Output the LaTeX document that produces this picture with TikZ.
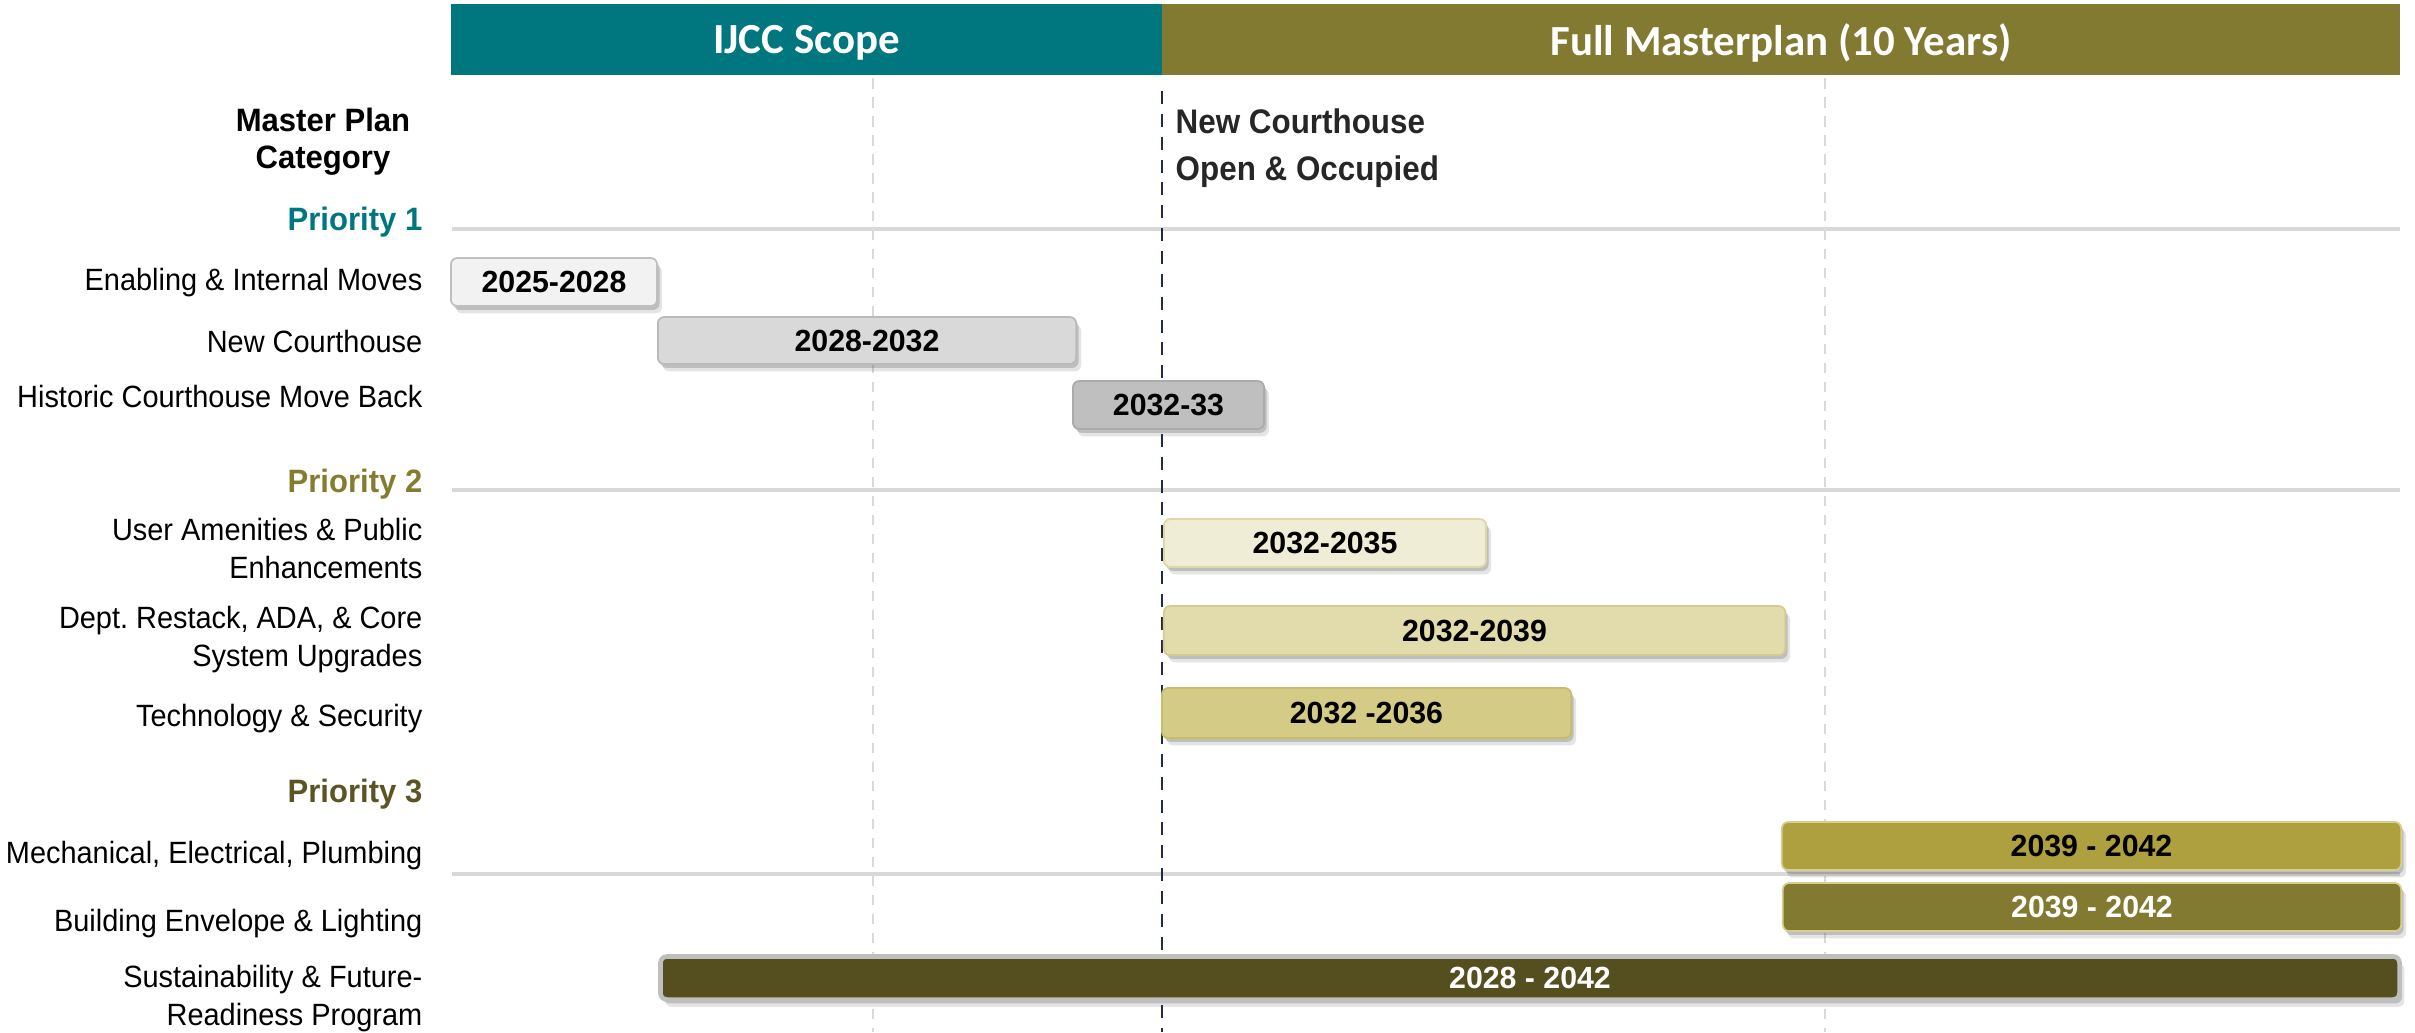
\documentclass[tikz,border=0pt]{standalone}
\usepackage{fontspec}
\usetikzlibrary{shadows}
\newfontfamily\regcond{Liberation Sans}[FakeStretch=0.94]
\newfontfamily\boldhead{Liberation Sans}[FakeStretch=0.96]
\newfontfamily\boldnote{Liberation Sans}[FakeStretch=0.92]
\newfontfamily\boldbar{Liberation Sans}[FakeStretch=0.99]
\newfontfamily\headfont{Carlito}
\definecolor{ijccteal}{HTML}{00767F}
\definecolor{hdrolive}{HTML}{837A31}
\definecolor{prioii}{HTML}{857C2F}
\definecolor{prioiii}{HTML}{5B5523}
\definecolor{navyline}{HTML}{1F2B47}
\definecolor{gridgrey}{HTML}{D9D9D9}
\definecolor{annot}{HTML}{262626}
\definecolor{cfour}{HTML}{EFEDD5}
\definecolor{dfour}{HTML}{DDD8A6}
\definecolor{cfive}{HTML}{E2DCAC}
\definecolor{dfive}{HTML}{D3CC8E}
\definecolor{csix}{HTML}{D4CB86}
\definecolor{dsix}{HTML}{C6BC6C}
\definecolor{cseven}{HTML}{AEA03E}
\definecolor{ceight}{HTML}{817A30}
\definecolor{dlight}{HTML}{D6CF8E}
\definecolor{cnine}{HTML}{554F20}
\begin{document}
\frenchspacing
\begin{tikzpicture}[x=0.01cm,y=-0.01cm,
  hdr/.style={inner sep=0pt, outer sep=0pt, text=white, text depth=0pt,
    font=\headfont\bfseries\fontsize{12.2}{14}\selectfont},
  lab/.style={inner sep=0pt, anchor=base east, align=right,
    font=\regcond\fontsize{8.75}{10.7}\selectfont},
  prio/.style={inner sep=0pt, anchor=base east,
    font=\boldhead\bfseries\fontsize{9.2}{10.5}\selectfont},
  bar/.style={rounded corners=1.8pt, line width=0.5pt, inner sep=0pt, text depth=0pt,
    font=\boldbar\bfseries\fontsize{8.7}{10}\selectfont,
    drop shadow={shadow xshift=0.7pt, shadow yshift=-1.1pt, opacity=0.25, fill=black!70},
    drop shadow={shadow xshift=1.4pt, shadow yshift=-2.1pt, opacity=0.15, fill=black!70}},
  hline/.style={draw=gridgrey, line width=0.9pt},
  vgrid/.style={draw=gridgrey, line width=0.6pt, dash pattern=on 3pt off 2.4pt},
  milestone/.style={draw=navyline, line width=0.7pt, dash pattern=on 3.7pt off 2.8pt}]
\useasboundingbox (0,0) rectangle (2415,1032);

% header bands
\node[hdr, fill=ijccteal, minimum width=7.11cm, minimum height=0.70cm] (ijcc) at (806.5,39.5) {IJCC Scope};
\node[hdr, fill=hdrolive, minimum width=12.38cm, minimum height=0.70cm] (full) at (1781,39.5) {Full Masterplan (10 Years)};

% grid
\draw[hline] (452,229) -- (2400,229);
\draw[hline] (452,490) -- (2400,490);
\draw[hline] (452,874) -- (2400,874);
\draw[vgrid] (873,78) -- (873,1032);
\draw[vgrid] (1825,78) -- (1825,1032);
\draw[milestone] (1162,91) -- (1162,1032);

% column heading and annotation (base = baseline of last line)
\node[inner sep=0pt, anchor=base, align=center, font=\boldhead\bfseries\fontsize{9.2}{10.5}\selectfont] (mpc) at (323,168) {Master Plan\\Category};
\node[inner sep=0pt, anchor=base west, align=left, text=annot, font=\boldnote\bfseries\fontsize{9.7}{13.1}\selectfont] (occ) at (1175,180) {New Courthouse\\Open \& Occupied};

% priorities
\node[prio, text=ijccteal] (p1) at (423,230) {Priority 1};
\node[prio, text=prioii] (p2) at (423,492) {Priority 2};
\node[prio, text=prioiii] (p3) at (423,802) {Priority 3};

% category labels
\node[lab] (l1) at (423,290) {Enabling \& Internal Moves};
\node[lab] (l2) at (423,352) {New Courthouse};
\node[lab] (l3) at (423,407) {Historic Courthouse Move Back};
\node[lab] (l4) at (423,578) {User Amenities \& Public\\Enhancements};
\node[lab] (l5) at (423,666) {Dept. Restack, ADA, \& Core\\System Upgrades};
\node[lab] (l6) at (423,726) {Technology \& Security};
\node[lab] (l7) at (423,863) {Mechanical, Electrical, Plumbing};
\node[lab] (l8) at (423,931) {Building Envelope \& Lighting};
\node[lab] (l9) at (423,1025) {Sustainability \& Future-\\Readiness Program};

% bars
\node[bar, fill=black!5, draw=black!25, minimum width=2.06cm, minimum height=0.48cm] (b1) at (554,282) {2025-2028};
\node[bar, fill=black!15, draw=black!27, minimum width=4.18cm, minimum height=0.47cm] (b2) at (867,340.5) {2028-2032};
\node[bar, fill=black!25, draw=black!33, minimum width=1.91cm, minimum height=0.48cm] (b3) at (1168.5,405) {2032-33};
\node[bar, fill=cfour, draw=dfour, minimum width=3.22cm, minimum height=0.48cm] (b4) at (1325,543) {2032-2035};
\node[bar, fill=cfive, draw=dfive, minimum width=6.21cm, minimum height=0.49cm] (b5) at (1474.5,630.5) {2032-2039};
\node[bar, fill=csix, draw=dsix, minimum width=4.09cm, minimum height=0.50cm] (b6) at (1366.5,713) {2032 -2036};
\node[bar, fill=cseven, draw=dlight, minimum width=6.19cm, minimum height=0.48cm] (b7) at (2091.5,846) {2039 - 2042};
\node[bar, fill=ceight, draw=dlight, text=white, minimum width=6.18cm, minimum height=0.48cm] (b8) at (2092,907) {2039 - 2042};
\node[bar, fill=cnine, draw=black!25, line width=1.3pt, text=white, minimum width=17.38cm, minimum height=0.43cm] (b9) at (1530,978) {2028 - 2042};
\end{tikzpicture}
\end{document}
